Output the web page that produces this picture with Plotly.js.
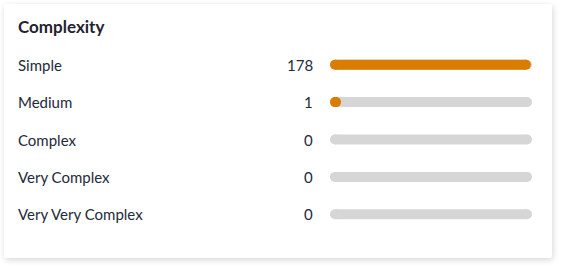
<!DOCTYPE html>
<html>
<head>
<meta charset="utf-8">
<script src="https://cdn.plot.ly/plotly-3.0.1.min.js"></script>
<style>
  html, body { margin: 0; padding: 0; background: #ffffff; width: 562px; height: 268px; overflow: hidden; }
  #card {
    position: absolute; left: 4px; top: 4px; width: 548px; height: 254px;
    background: #ffffff; border-radius: 2px;
    box-shadow: 1px 2px 6px rgba(0, 0, 0, 0.16);
  }
  #chart { position: absolute; left: 0; top: 0; width: 562px; height: 268px; }
</style>
</head>
<body>
<div id="card"></div>
<div id="chart"></div>
<script>
// Complexity breakdown
const categories = ['Simple', 'Medium', 'Complex', 'Very Complex', 'Very Very Complex'];
const counts = [178, 1, 0, 0, 0];

const W = 562, H = 268;
const M = { l: 335, r: 35, t: 46, b: 35 };
const plotW = W - M.l - M.r;
const total = counts.reduce((a, b) => a + b, 0);

// pixel -> paper x helper for labels placed left of the plot area
const paperX = px => (px - M.l) / plotW;

// Each row is a segment from 0 to its end value; round caps come from circle markers
function segments(ends) {
  const x = [], y = [];
  ends.forEach((v, i) => {
    if (v === null) return;
    x.push(0, v, null);
    y.push(i, i, null);
  });
  return { x, y };
}

const track = segments(categories.map(() => total));
const fill = segments(counts.map(v => (v > 0 ? v : null)));

const barStyle = (color) => ({
  type: 'scatter',
  mode: 'lines+markers',
  line: { color: color, width: 10 },
  marker: { color: color, size: 10, line: { width: 0 } },
  cliponaxis: false,
  hoverinfo: 'skip',
  showlegend: false
});

const traces = [
  Object.assign(barStyle('#d6d6d6'), track),
  Object.assign(barStyle('#d97d00'), fill)
];

const textFont = { family: 'Lato', size: 15, color: '#232a3a' };
const annotations = [];
categories.forEach((c, i) => {
  annotations.push({
    xref: 'paper', yref: 'y', x: paperX(16), y: i,
    xanchor: 'left', yanchor: 'middle', showarrow: false,
    text: c, font: textFont
  });
  annotations.push({
    xref: 'paper', yref: 'y', x: paperX(315), y: i,
    xanchor: 'right', yanchor: 'middle', showarrow: false,
    text: String(counts[i]), font: textFont
  });
});

const layout = {
  width: W, height: H,
  margin: M,
  paper_bgcolor: 'rgba(0,0,0,0)',
  plot_bgcolor: 'rgba(0,0,0,0)',
  title: {
    text: 'Complexity',
    xref: 'container', yref: 'container',
    x: 18 / W, xanchor: 'left',
    y: 1 - 27 / H, yanchor: 'middle',
    font: { family: 'Lato', size: 17, weight: 700, color: '#1f2330' }
  },
  xaxis: { range: [0, total], visible: false, fixedrange: true },
  yaxis: { range: [categories.length - 0.5, -0.5], visible: false, fixedrange: true },
  annotations: annotations
};

Plotly.newPlot('chart', traces, layout, { displayModeBar: false, staticPlot: true });
</script>
</body>
</html>
